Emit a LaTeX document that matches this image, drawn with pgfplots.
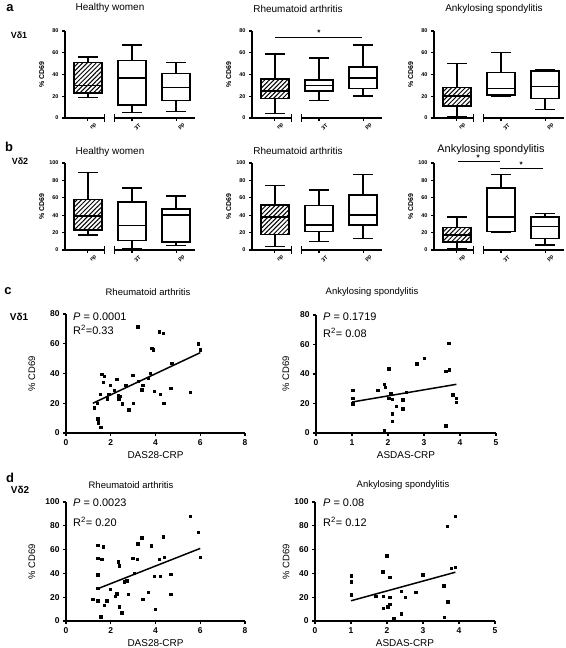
\documentclass[border=0pt]{standalone}
\usepackage{fontspec}
\setmainfont{Liberation Sans}
\usepackage{pgfplots}
\pgfplotsset{compat=1.18}
\usetikzlibrary{patterns.meta}

\pgfplotsset{
  boxax/.style={scale only axis, width=130bp, height=87bp, xmin=0.48, xmax=3.43, ymin=0,
    axis lines=left, axis line style={-, line width=1.4bp}, x axis line style={draw=none},
    tick align=outside, major tick length=3bp, tick style={line width=1.1bp, black},
    xtick={1,2,3}, xticklabels={np,3T,pp},
    xticklabel style={rotate=45, anchor=center, yshift=-8bp, inner sep=0pt, font=\fontsize{5.5}{6}\selectfont\bfseries},
    yticklabel style={font=\fontsize{5.5}{6}\selectfont\bfseries},
    /pgf/number format/assume math mode=true,
    ylabel={\% CD69}, ylabel style={font=\fontsize{7}{8}\selectfont\bfseries, at={(axis description cs:-0.18,0.5)}, anchor=center},
    clip=false},
  hatch/.style={pattern={Lines[angle=45,distance=3.2bp,line width=1bp]}},
  scax/.style={scale only axis, axis lines=left, axis line style={-, line width=1.4bp},
    tick align=outside, major tick length=3bp, tick style={line width=1.1bp, black},
    xmin=0, ymin=0, ticklabel style={font=\fontsize{8.5}{9}\selectfont\bfseries},
    /pgf/number format/assume math mode=true,
    ylabel={\% CD69}, ylabel style={font=\fontsize{9.5}{10}\selectfont, anchor=center},
    xlabel style={font=\fontsize{10}{11}\selectfont, anchor=center, at={(axis description cs:0.5,-0.185)}},
    clip=false},
  pts/.style={only marks, mark=square*, mark size=1.2bp, black},
  fit/.style={black, line width=1.5bp, no marks},
  bl/.style={black, line width=1.5bp, no marks, line cap=rect},
}
% box: #1 position, #2 lower whisker, #3 Q1, #4 median, #5 Q3, #6 upper whisker, #7 fill style
\newcommand\bxp[7]{%
  \pgfmathsetmacro\xa{#1-0.32}\pgfmathsetmacro\xb{#1+0.32}%
  \pgfmathsetmacro\ca{#1-0.21}\pgfmathsetmacro\cb{#1+0.21}%
  \addplot[bl] coordinates {(#1,#5) (#1,#6)};
  \addplot[bl] coordinates {(#1,#3) (#1,#2)};
  \addplot[bl] coordinates {(\ca,#6) (\cb,#6)};
  \addplot[bl] coordinates {(\ca,#2) (\cb,#2)};
  \addplot[bl, line join=miter, #7] coordinates {(\xa,#3) (\xb,#3) (\xb,#5) (\xa,#5) (\xa,#3)};
  \addplot[bl] coordinates {(\xa,#4) (\xb,#4)};
}
\newcommand\brk{%
  \draw[line width=1.4bp] (axis cs:0.48,0) -- (axis cs:1.38,0);
  \draw[line width=1.4bp] (axis cs:1.6,0) -- (axis cs:3.43,0);
  \draw[line width=1.1bp] ([yshift=-4bp]axis cs:1.38,0) -- ([yshift=4bp]axis cs:1.38,0);
  \draw[line width=1.1bp] ([yshift=-4bp]axis cs:1.6,0) -- ([yshift=4bp]axis cs:1.6,0);
}
\newcommand\ttl[4][10]{\node[font=\fontsize{#1}{12}\selectfont] at (#2bp,#3bp) {#4};}

\begin{document}
\begin{tikzpicture}
\useasboundingbox (0,0) rectangle (566bp,648bp);

% ---------------- row a ----------------
\begin{axis}[boxax, at={(65bp,530bp)}, anchor=south west, ymax=80, ytick={0,20,40,60,80}]
\bxp{1}{19}{23}{30}{51}{56}{fill=white, hatch}
\bxp{2}{5}{12}{37}{53}{67}{fill=white}
\bxp{3}{6}{16}{28}{41}{51}{fill=white}
\brk
\end{axis}
\begin{axis}[boxax, at={(252bp,530bp)}, anchor=south west, ymax=80, ytick={0,20,40,60,80}]
\bxp{1}{4}{18}{25}{36}{59}{fill=white, hatch}
\bxp{2}{16}{25}{30}{35}{55}{fill=white}
\bxp{3}{20}{27}{37}{47}{67}{fill=white}
\brk
\draw[line width=0.9bp] (axis cs:1,74) -- (axis cs:2.98,74);
\node[font=\fontsize{8}{9}\selectfont\bfseries] at (axis cs:2,78) {*};
\end{axis}
\begin{axis}[boxax, at={(434bp,530bp)}, anchor=south west, ymax=80, ytick={0,20,40,60,80}]
\bxp{1}{1}{11}{20}{28}{50}{fill=white, hatch}
\bxp{2}{20}{21}{27}{42}{60}{fill=white}
\bxp{3}{8}{18}{29}{43}{44}{fill=white}
\brk
\end{axis}

% ---------------- row b ----------------
\begin{axis}[boxax, at={(65bp,398bp)}, anchor=south west, ymax=100, ytick={0,20,40,60,80,100}]
\bxp{1}{17}{23}{39}{58}{89}{fill=white, hatch}
\bxp{2}{1}{11}{28}{55}{71}{fill=white}
\bxp{3}{5}{9}{40}{47}{62}{fill=white}
\brk
\end{axis}
\begin{axis}[boxax, at={(252bp,398bp)}, anchor=south west, ymax=100, ytick={0,20,40,60,80,100}]
\bxp{1}{4}{18}{38}{52}{74}{fill=white, hatch}
\bxp{2}{10}{21}{29}{51}{69}{fill=white}
\bxp{3}{13}{29}{40}{63}{87}{fill=white}
\brk
\end{axis}
\begin{axis}[boxax, at={(434bp,398bp)}, anchor=south west, ymax=100, ytick={0,20,40,60,80,100}]
\bxp{1}{2}{9}{17}{26}{38}{fill=white, hatch}
\bxp{2}{20}{21}{38}{71}{87}{fill=white}
\bxp{3}{6}{13}{27}{38}{42}{fill=white}
\brk
\draw[line width=0.9bp] (axis cs:1.03,101.5) -- (axis cs:1.97,101.5);
\draw[line width=0.9bp] (axis cs:1.97,94) -- (axis cs:2.96,94);
\node[font=\fontsize{8}{9}\selectfont\bfseries] at (axis cs:1.48,106) {*};
\node[font=\fontsize{8}{9}\selectfont\bfseries] at (axis cs:2.46,98.5) {*};
\end{axis}

% ---------------- row c ----------------
\begin{axis}[scax, at={(66bp,215bp)}, anchor=south west, width=179bp, height=119bp,
  xmax=8, ymax=80, xtick={0,2,4,6,8}, ytick={0,20,40,60,80}, xlabel={DAS28-CRP},
  ylabel style={at={(axis description cs:-0.19,0.5)}}]
\addplot[pts] coordinates {(1.25,17) (1.4,20) (1.42,9.6) (1.43,7) (1.55,4) (1.52,26) (1.6,39.5) (1.7,38) (1.67,34) (1.85,23) (1.9,26) (1.97,32) (2.15,28.6) (2.27,36) (2.34,25) (2.35,23) (2.4,24.6) (2.5,19.7) (2.64,32) (2.7,32) (2.8,15.6) (2.98,39) (3.0,20) (3.2,71.5) (3.23,35) (3.38,29) (3.43,32) (3.68,37) (3.75,40) (3.83,57) (3.9,56) (3.95,28) (4.17,68) (4.2,26) (4.35,67) (4.37,20) (4.72,47) (4.68,30) (5.54,27.5) (5.92,60) (5.99,56)};
\addplot[fit] coordinates {(1.2,20) (6,54)};
\end{axis}
\begin{axis}[scax, at={(316bp,215bp)}, anchor=south west, width=180bp, height=118bp,
  xmax=5, ymax=80, xtick={0,1,2,3,4,5}, ytick={0,20,40,60,80}, xlabel={ASDAS-CRP},
  ylabel style={at={(axis description cs:-0.167,0.5)}}]
\addplot[pts] coordinates {(1.02,29) (1.02,23.7) (1.02,20) (1.71,29) (1.9,33) (1.92,31) (1.9,1.5) (2.02,43.5) (2.02,23.7) (2.08,26.6) (2.11,23) (2.11,13) (2.11,8) (2.22,18) (2.41,22.5) (2.41,16.5) (2.5,27.7) (2.8,47) (3.0,50.7) (3.6,42) (3.7,43) (3.69,61) (3.6,5) (3.8,26) (3.89,23.7) (3.9,21)};
\addplot[fit] coordinates {(1,21) (3.9,33)};
\end{axis}

% ---------------- row d ----------------
\begin{axis}[scax, at={(66bp,27bp)}, anchor=south west, width=179bp, height=119bp,
  xmax=8, ymax=100, xtick={0,2,4,6,8}, ytick={0,20,40,60,80,100}, xlabel={DAS28-CRP},
  ylabel style={at={(axis description cs:-0.19,0.5)}}]
\addplot[pts] coordinates {(1.19,18.3) (1.42,63.5) (1.42,52.8) (1.42,38.8) (1.42,27.5) (1.42,16.9) (1.55,3.7) (1.59,52) (1.67,62.6) (1.7,13.5) (1.82,17) (1.97,26.7) (2.19,21) (2.27,22.8) (2.34,50) (2.37,46.6) (2.38,12) (2.49,7) (2.59,33) (2.71,33.7) (2.79,22.5) (2.98,52.8) (3.04,40) (3.19,52) (3.2,65) (3.38,70) (3.43,18.3) (3.68,24) (3.8,63.2) (3.95,37.4) (3.98,9.8) (4.17,52) (4.2,37.4) (4.38,53.6) (4.35,71) (4.68,39.3) (4.68,22.5) (5.54,88) (5.92,74.4) (5.99,53.4)};
\addplot[fit] coordinates {(1.4,27) (6,61)};
\end{axis}
\begin{axis}[scax, at={(315bp,27bp)}, anchor=south west, width=180bp, height=119bp,
  xmax=5, ymax=100, xtick={0,1,2,3,4,5}, ytick={0,20,40,60,80,100}, xlabel={ASDAS-CRP},
  ylabel style={at={(axis description cs:-0.16,0.5)}}]
\addplot[pts] coordinates {(1.0,38) (1.0,33) (1.0,22) (1.69,21) (1.88,41.5) (1.9,21) (1.9,11) (1.99,55) (2.02,12) (2.08,37) (2.08,20) (2.08,14) (2.19,2) (2.39,25) (2.39,6) (2.5,20) (2.8,24) (2.99,39) (3.57,29.5) (3.59,3) (3.68,79.5) (3.69,16.3) (3.78,44.4) (3.89,45) (3.89,88)};
\addplot[fit] coordinates {(1,17) (3.9,41)};
\end{axis}

% ---------------- texts ----------------
\begin{scope}[every node/.style={font=\fontsize{13}{14}\selectfont\bfseries}]
\node at (10bp,640bp) {a};
\node at (9bp,501bp) {b};
\node at (8bp,357bp) {c};
\node at (10bp,170bp) {d};
\end{scope}
\begin{scope}[every node/.style={font=\fontsize{9}{10}\selectfont\bfseries}]
\node at (19bp,613bp) {Vδ1};
\node at (20bp,487bp) {Vδ2};
\end{scope}
\begin{scope}[every node/.style={font=\fontsize{10}{11}\selectfont\bfseries}]
\node at (19bp,331bp) {Vδ1};
\node at (20bp,158bp) {Vδ2};
\end{scope}
\ttl{110}{640}{Healthy women}
\ttl{298}{639}{Rheumatoid arthritis}
\ttl{494}{639}{Ankylosing spondylitis}
\ttl{110}{496}{Healthy women}
\ttl{298}{497}{Rheumatoid arthritis}
\ttl[11]{491}{498}{Ankylosing spondylitis}
\ttl[9.5]{148}{356}{Rheumatoid arthritis}
\ttl[9.5]{372}{356}{Ankylosing spondylitis}
\ttl[9.5]{131}{163}{Rheumatoid arthritis}
\ttl[9.5]{403}{163}{Ankylosing spondylitis}
\begin{scope}[every node/.style={font=\fontsize{11}{12}\selectfont, anchor=west, inner sep=0pt}]
\node at (73bp,331bp) {\textit{P} = 0.0001};
\node at (73bp,318bp) {R\textsuperscript{2}=0.33};
\node at (323bp,331bp) {\textit{P} = 0.1719};
\node at (323bp,315bp) {R\textsuperscript{2}= 0.08};
\node at (73bp,145bp) {\textit{P} = 0.0023};
\node at (73bp,126bp) {R\textsuperscript{2}= 0.20};
\node at (323bp,145bp) {\textit{P} = 0.08};
\node at (323bp,126bp) {R\textsuperscript{2}= 0.12};
\end{scope}
\end{tikzpicture}
\end{document}
